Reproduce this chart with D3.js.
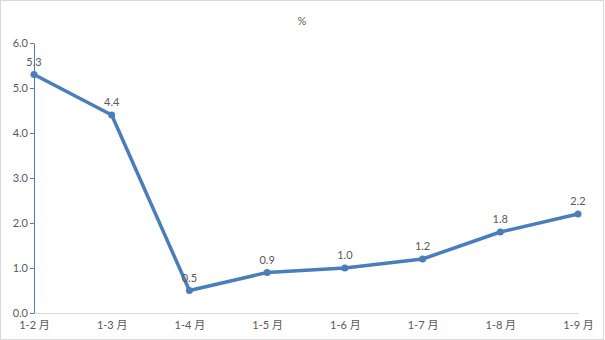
<!DOCTYPE html>
<head>
    <meta charset="utf-8">
    <style>
        body { margin: 0; background: #fff; }
        #chart svg { display: block; }
        text { font-family: Lato, "Noto Sans CJK SC", sans-serif; fill: #595959; }
    </style>
</head>
<body>
    <div id="chart"></div>
    <script src="https://d3js.org/d3.v7.min.js"></script>
    <script>
        var months = ["1-2 月", "1-3 月", "1-4 月", "1-5 月", "1-6 月", "1-7 月", "1-8 月", "1-9 月"];
        var values = [5.3, 4.4, 0.5, 0.9, 1.0, 1.2, 1.8, 2.2];
        var yTicks = [0, 1, 2, 3, 4, 5, 6];
        var unit = "%";

        var W = 605, H = 340;
        var margin = {top: 43, right: 27, bottom: 27, left: 34},
            width = W - margin.left - margin.right,
            height = H - margin.top - margin.bottom;

        var svg = d3.select("#chart").append("svg")
            .attr("width", W)
            .attr("height", H);

        // outer frame
        svg.append("rect")
            .attr("x", 0.5).attr("y", 0.5)
            .attr("width", W - 2).attr("height", H - 1)
            .attr("fill", "#fff")
            .attr("stroke", "#d9d9d9");

        svg.append("text")
            .attr("x", 302).attr("y", 25)
            .attr("text-anchor", "middle")
            .style("font-size", "11px")
            .text(unit);

        var g = svg.append("g")
            .attr("transform", "translate(" + margin.left + "," + margin.top + ")");

        var x = d3.scalePoint().domain(months).range([0, width]);
        var y = d3.scaleLinear().domain([0, 6]).range([height, 0]);

        // x axis
        var xAxis = g.append("g")
            .attr("transform", "translate(0," + height + ")")
            .call(d3.axisBottom(x).tickSize(0).tickPadding(8));
        xAxis.select(".domain").attr("stroke", "#d9d9d9");
        xAxis.selectAll("text").style("font-size", "11px").attr("fill", "#595959");

        // y axis
        var yAxis = g.append("g")
            .call(d3.axisLeft(y).tickValues(yTicks).tickSize(4).tickSizeOuter(0)
                .tickPadding(2).tickFormat(d3.format(".1f")));
        yAxis.selectAll(".domain, line").attr("stroke", "#4a7ebb");
        yAxis.selectAll("text").style("font-size", "11px").attr("fill", "#595959");

        var line = d3.line()
            .x(function(d, i) { return x(months[i]); })
            .y(function(d) { return y(d); });

        g.append("path")
            .datum(values)
            .attr("d", line)
            .attr("fill", "none")
            .attr("stroke", "#4a7ebb")
            .attr("stroke-width", 3.5)
            .attr("stroke-linejoin", "round");

        g.selectAll(".dot")
            .data(values)
            .enter().append("circle")
            .attr("cx", function(d, i) { return x(months[i]); })
            .attr("cy", function(d) { return y(d); })
            .attr("r", 3.5)
            .attr("fill", "#4a7ebb");

        g.selectAll(".lbl")
            .data(values)
            .enter().append("text")
            .attr("x", function(d, i) { return x(months[i]); })
            .attr("y", function(d) { return y(d) - 9; })
            .attr("text-anchor", "middle")
            .style("font-size", "11px")
            .text(function(d) { return d3.format(".1f")(d); });
    </script>
</body>
</html>
